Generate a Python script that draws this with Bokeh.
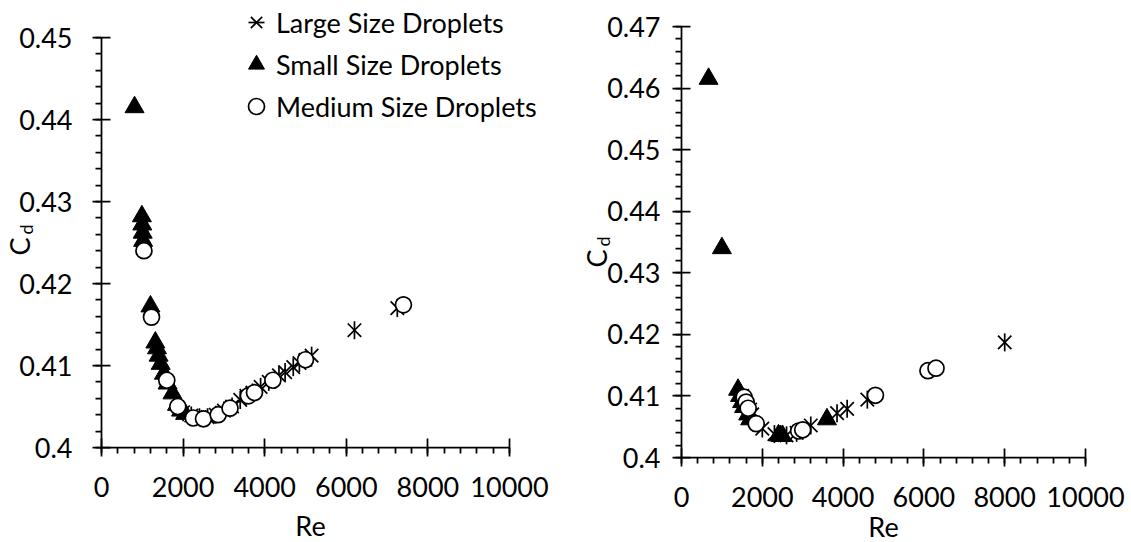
from bokeh.plotting import figure
from bokeh.models import Range1d, FixedTicker, Legend, LegendItem, CustomJSTickFormatter, Label
from bokeh.layouts import row
from bokeh.embed import file_html
from bokeh.resources import INLINE

# ---------------- data: left panel ----------------
left_large_re = [2000, 2200, 2400, 2600, 2800, 3000, 3200, 3400, 3550, 3700, 3900, 4100, 4350, 4500, 4700, 4850, 5000, 5150, 6200, 7250]
left_large_cd = [0.4043, 0.4039, 0.4037, 0.4037, 0.4040, 0.4045, 0.4050, 0.4058, 0.4063, 0.4067, 0.4074, 0.4080, 0.4088, 0.4092, 0.4098, 0.4103, 0.4107, 0.4112, 0.4143, 0.4170]
left_small_re = [810, 990, 1000, 1010, 1020, 1200, 1320, 1360, 1400, 1450, 1530, 1620, 1740, 1850, 1950, 2050]
left_small_cd = [0.4415, 0.4282, 0.4272, 0.4262, 0.4252, 0.4172, 0.4128, 0.4121, 0.4112, 0.4102, 0.4090, 0.4078, 0.4066, 0.4052, 0.4045, 0.4041]
left_medium_re = [1040, 1225, 1600, 1870, 2250, 2500, 2860, 3150, 3600, 3750, 4200, 5000, 7400]
left_medium_cd = [0.4240, 0.4159, 0.4082, 0.4050, 0.4036, 0.4035, 0.4040, 0.4048, 0.4063, 0.4067, 0.4082, 0.4107, 0.4174]

# ---------------- data: right panel ----------------
right_large_re = [1500, 1600, 1700, 1750, 2000, 2300, 2600, 2850, 3200, 3850, 4100, 4600, 8000]
right_large_cd = [0.4100, 0.4088, 0.4078, 0.4070, 0.4047, 0.4038, 0.4036, 0.4040, 0.4052, 0.4072, 0.4079, 0.4094, 0.4187]
right_small_re = [670, 1000, 1400, 1450, 1500, 1550, 1650, 1700, 2400, 2450, 2500, 3600]
right_small_cd = [0.4615, 0.4340, 0.4110, 0.4100, 0.4090, 0.4082, 0.4070, 0.4062, 0.4036, 0.4035, 0.4035, 0.4062]
right_medium_re = [1550, 1600, 1650, 1850, 2900, 3000, 4800, 6100, 6300]
right_medium_cd = [0.4098, 0.4090, 0.4080, 0.4055, 0.4043, 0.4045, 0.4101, 0.4141, 0.4145]

# ---------------- ticks / texts ----------------
x_ticks = [0, 2000, 4000, 6000, 8000, 10000]
x_minor = [i * 400 for i in range(26)]
left_y_ticks = [0.40, 0.41, 0.42, 0.43, 0.44, 0.45]
right_y_ticks = [0.40, 0.41, 0.42, 0.43, 0.44, 0.45, 0.46, 0.47]
left_y_minor = [round(0.400 + i * 0.002, 3) for i in range(26)]
right_y_minor = [round(0.400 + i * 0.002, 3) for i in range(36)]

series_names = ["Large Size Droplets", "Small Size Droplets", "Medium Size Droplets"]
x_title = "Re"
y_title_main = "C"
y_title_sub = "d"

FONT = "Lato"
FS = "27px"
SUB_FS = "18px"
H = 542


def make_fig(width, ax_x, ax_top, ax_bottom, ymax, yticks, yminor, ystand, xstand):
    """Frame covers the whole canvas; axes are pinned at Re=0 and Cd=0.4."""
    px_per_re = (ax_x[1] - ax_x[0]) / 10000.0
    px_per_cd = (ax_bottom - ax_top) / (ymax - 0.40)
    x0 = -ax_x[0] / px_per_re
    x1 = (width - ax_x[0]) / px_per_re
    y0 = 0.40 - (H - ax_bottom) / px_per_cd
    y1 = ymax + ax_top / px_per_cd
    p = figure(width=width, height=H, x_range=Range1d(x0, x1), y_range=Range1d(y0, y1),
               min_border_left=0, min_border_right=0, min_border_top=0, min_border_bottom=0,
               output_backend="svg", toolbar_location=None)
    p.outline_line_color = None
    p.xgrid.visible = False
    p.ygrid.visible = False
    p.background_fill_color = "white"
    p.border_fill_color = "white"
    xa = p.xaxis[0]
    ya = p.yaxis[0]
    xa.ticker = FixedTicker(ticks=x_ticks, minor_ticks=x_minor)
    ya.ticker = FixedTicker(ticks=yticks, minor_ticks=yminor)
    ya.formatter = CustomJSTickFormatter(code="return String(Math.round(tick*100)/100);")
    xa.bounds = (0, 10000)
    ya.bounds = (0.40, ymax)
    xa.fixed_location = 0.40
    ya.fixed_location = 0
    for ax in (xa, ya):
        ax.axis_line_color = "black"
        ax.axis_line_width = 1.75
        ax.major_tick_line_color = "black"
        ax.major_tick_line_width = 1.75
        ax.minor_tick_line_color = "black"
        ax.minor_tick_line_width = 1.75
        ax.major_tick_in = 9
        ax.major_tick_out = 9
        ax.minor_tick_in = 0
        ax.minor_tick_out = 6
        ax.major_label_text_font = FONT
        ax.major_label_text_font_size = FS
        ax.major_label_text_color = "black"
    ya.major_label_standoff = ystand
    xa.major_label_standoff = xstand
    return p


def add_series(p, big_re, big_cd, small_re, small_cd, med_re, med_cd):
    # Excel-style star: a vertical bar plus an "x"
    r1a = p.scatter(big_re, big_cd, marker="x", size=19, line_color="black", line_width=1.7)
    r1b = p.scatter(big_re, big_cd, marker="dash", angle=1.5707963, size=18, line_color="black", line_width=1.7)
    r2 = p.scatter(small_re, small_cd, marker="triangle", size=19, fill_color="black", line_color="black")
    r3 = p.scatter(med_re, med_cd, marker="circle", size=16, fill_color="white", line_color="black", line_width=1.7)
    return [r1a, r1b], r2, r3


def add_titles(p, re_xy, c_xy, d_xy):
    p.add_layout(Label(x=re_xy[0], y=H - re_xy[1], x_units="screen", y_units="screen", text=x_title,
                       text_font=FONT, text_font_size=FS, text_align="center",
                       text_baseline="middle", text_color="black"))
    p.add_layout(Label(x=c_xy[0], y=H - c_xy[1], x_units="screen", y_units="screen", text=y_title_main,
                       angle=1.5707963, text_font=FONT, text_font_size=FS, text_align="center",
                       text_baseline="middle", text_color="black"))
    p.add_layout(Label(x=d_xy[0], y=H - d_xy[1], x_units="screen", y_units="screen", text=y_title_sub,
                       angle=1.5707963, text_font=FONT, text_font_size=SUB_FS, text_align="center",
                       text_baseline="middle", text_color="black"))


# left chart: Re 0..10000 at x 101..509, Cd 0.45..0.40 at y 37..447
p1 = make_fig(565, (101, 509), 37, 447, 0.45, left_y_ticks, left_y_minor, 20, 20)
r1, r2, r3 = add_series(p1, left_large_re, left_large_cd, left_small_re, left_small_cd,
                        left_medium_re, left_medium_cd)
add_titles(p1, (310, 525), (19, 246), (25, 229))

legend = Legend(items=[LegendItem(label=series_names[0], renderers=r1),
                       LegendItem(label=series_names[1], renderers=[r2]),
                       LegendItem(label=series_names[2], renderers=[r3])],
                location=(236, H - 127), glyph_width=40, glyph_height=42, spacing=0,
                padding=0, margin=0, label_standoff=-2, border_line_color=None,
                background_fill_alpha=0, label_text_font=FONT, label_text_font_size=FS,
                label_text_color="black")
p1.add_layout(legend)

# right chart (local coords): Re 0..10000 at x 116..520, Cd 0.47..0.40 at y 26..457
p2 = make_fig(566, (116, 520), 26, 457, 0.47, right_y_ticks, right_y_minor, 12, 20)
add_series(p2, right_large_re, right_large_cd, right_small_re, right_small_cd,
           right_medium_re, right_medium_cd)
add_titles(p2, (318, 526), (31, 258), (37, 241))

layout = row(p1, p2)
open("out.html", "w").write(file_html(layout, INLINE))
